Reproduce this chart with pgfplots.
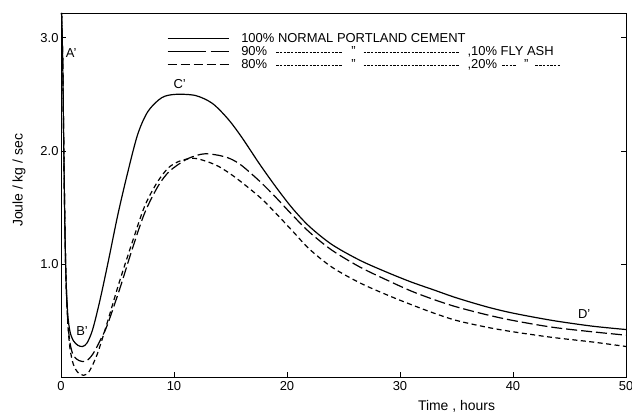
\documentclass[border=0pt]{standalone}
\usepackage{fontspec}
\setmainfont{Liberation Sans}
\usepackage{pgfplots}
\pgfplotsset{compat=1.18}
\newcommand{\dl}[1]{\hbox to #1{\leaders\hbox{\rule[3bp]{2.4bp}{0.5bp}\hskip1.3bp}\hfill}}
\begin{document}
\begin{tikzpicture}
\begin{axis}[
  scale only axis, width=565bp, height=364bp,
  xmin=0, xmax=50, ymin=0, ymax=3.22,
  axis line style={line width=0.9bp},
  xtick={0,10,20,30,40,50}, ytick={1,2,3},
  yticklabel style={/pgf/number format/fixed, /pgf/number format/fixed zerofill, /pgf/number format/precision=1, xshift=1bp},
  /pgf/number format/assume math mode=true,
  tick align=inside, major tick length=5bp,
  xtick pos=left, ytick pos=both,
  tick style={line width=0.8bp, black},
  ticklabel style={font=\fontsize{13}{15}\selectfont},
  xticklabel style={yshift=-1bp},
  xlabel={Time , hours}, ylabel={Joule / kg / sec},
  every axis x label/.style={at={(axis description cs:0.70,0)}, anchor=north, yshift=-23bp, font=\fontsize{14}{16}\selectfont, inner sep=0pt},
  every axis y label/.style={at={(axis description cs:-0.0743,0.54)}, anchor=center, rotate=90, font=\fontsize{14}{16}\selectfont, inner sep=0pt},
  legend cell align=left,
  legend style={at={(rel axis cs:0.1876,0.945)}, anchor=north west, draw=none, fill=none, inner sep=0pt,
    row sep=2bp, font=\fontsize{13}{15}\selectfont,
    nodes={inner sep=0pt, text height=9bp, text depth=2bp},
    /tikz/every odd column/.append style={column sep=12bp}},
  clip=true,
]
\addplot[black, line width=1.2bp, smooth, tension=0.5,
  legend image code/.code={\draw[black, line width=1.1bp] (0bp,0bp) -- (61bp,0bp);}]
coordinates {(0.05,3.22)(0.15,2.8)(0.25,2.0)(0.35,1.3)(0.45,0.85)(0.6,0.55)(0.8,0.40)(1.1,0.32)(1.5,0.28)(1.9,0.27)(2.3,0.30)(2.8,0.42)(3.45,0.68)(4.2,1.03)(5.04,1.44)(5.93,1.82)(6.8,2.15)(7.7,2.35)(8.9,2.47)(10.1,2.50)(11.9,2.49)(13.4,2.42)(14.8,2.28)(16.0,2.12)(17.6,1.88)(19.1,1.67)(20.5,1.49)(22,1.33)(24,1.17)(26.5,1.03)(29,0.92)(31,0.84)(33,0.77)(35,0.70)(37.7,0.62)(40,0.565)(43.5,0.50)(47,0.45)(50,0.42)};
\addlegendentry{100\% NORMAL PORTLAND CEMENT}
\addplot[black, line width=1.2bp, smooth, tension=0.5, dash pattern=on 11bp off 4bp,
  legend image code/.code={\draw[black, line width=1.1bp, dash pattern=on 38bp off 5bp] (0bp,0bp) -- (61bp,0bp);}]
coordinates {(0.05,3.22)(0.15,2.8)(0.25,2.0)(0.35,1.3)(0.45,0.85)(0.6,0.5)(0.8,0.3)(1.1,0.19)(1.6,0.145)(2.2,0.14)(2.8,0.2)(3.5,0.33)(4.1,0.46)(5.2,0.78)(6.3,1.13)(7.4,1.45)(8.6,1.69)(9.6,1.82)(11,1.92)(12,1.96)(12.8,1.975)(14,1.96)(15,1.93)(16,1.87)(17.6,1.73)(19,1.59)(20.5,1.43)(22,1.28)(24,1.12)(26.5,0.97)(29,0.85)(31,0.76)(33,0.685)(35,0.62)(37.7,0.55)(40,0.50)(43.5,0.44)(47,0.40)(50,0.37)};
\addlegendentry{\makebox[35bp][l]{90\%}\dl{70bp}\hspace{5bp}"\hspace{8bp}\dl{99bp}\hspace{5bp},10\% FLY ASH}
\addplot[black, line width=1.2bp, smooth, tension=0.5, dash pattern=on 5bp off 3.5bp,
  legend image code/.code={\draw[black, line width=1.1bp, dash pattern=on 9bp off 4bp] (0bp,0bp) -- (61bp,0bp);}]
coordinates {(0.05,3.22)(0.15,2.8)(0.25,2.0)(0.35,1.3)(0.45,0.85)(0.6,0.48)(0.8,0.25)(1.1,0.11)(1.5,0.04)(2.0,0.015)(2.5,0.05)(3.2,0.2)(4.0,0.45)(5.1,0.82)(6.3,1.19)(7.4,1.51)(8.5,1.72)(9.5,1.85)(10.5,1.91)(11.7,1.935)(12.8,1.91)(14,1.86)(15.5,1.76)(17.6,1.59)(19,1.45)(20.5,1.29)(22,1.13)(24,0.97)(26.5,0.83)(29,0.72)(31,0.64)(33,0.565)(35,0.50)(37.7,0.44)(40,0.40)(43.5,0.35)(47,0.31)(50,0.27)};
\addlegendentry{\makebox[35bp][l]{80\%}\dl{70bp}\hspace{5bp}"\hspace{8bp}\dl{99bp}\hspace{5bp},20\%\hspace{5bp}\dl{17bp}\hspace{5bp}"\hspace{7bp}\dl{28bp}}
\node[font=\fontsize{13}{15}\selectfont] at (axis cs:0.9,2.87) {A'};
\node[font=\fontsize{13}{15}\selectfont] at (axis cs:1.86,0.41) {B'};
\node[font=\fontsize{13}{15}\selectfont] at (axis cs:10.5,2.59) {C'};
\node[font=\fontsize{13}{15}\selectfont] at (axis cs:46.3,0.56) {D'};
\end{axis}
\pgfresetboundingbox
\path (current axis.south west) ++(-61bp,-40bp) rectangle ++(632bp,417bp);
\end{tikzpicture}
\end{document}
